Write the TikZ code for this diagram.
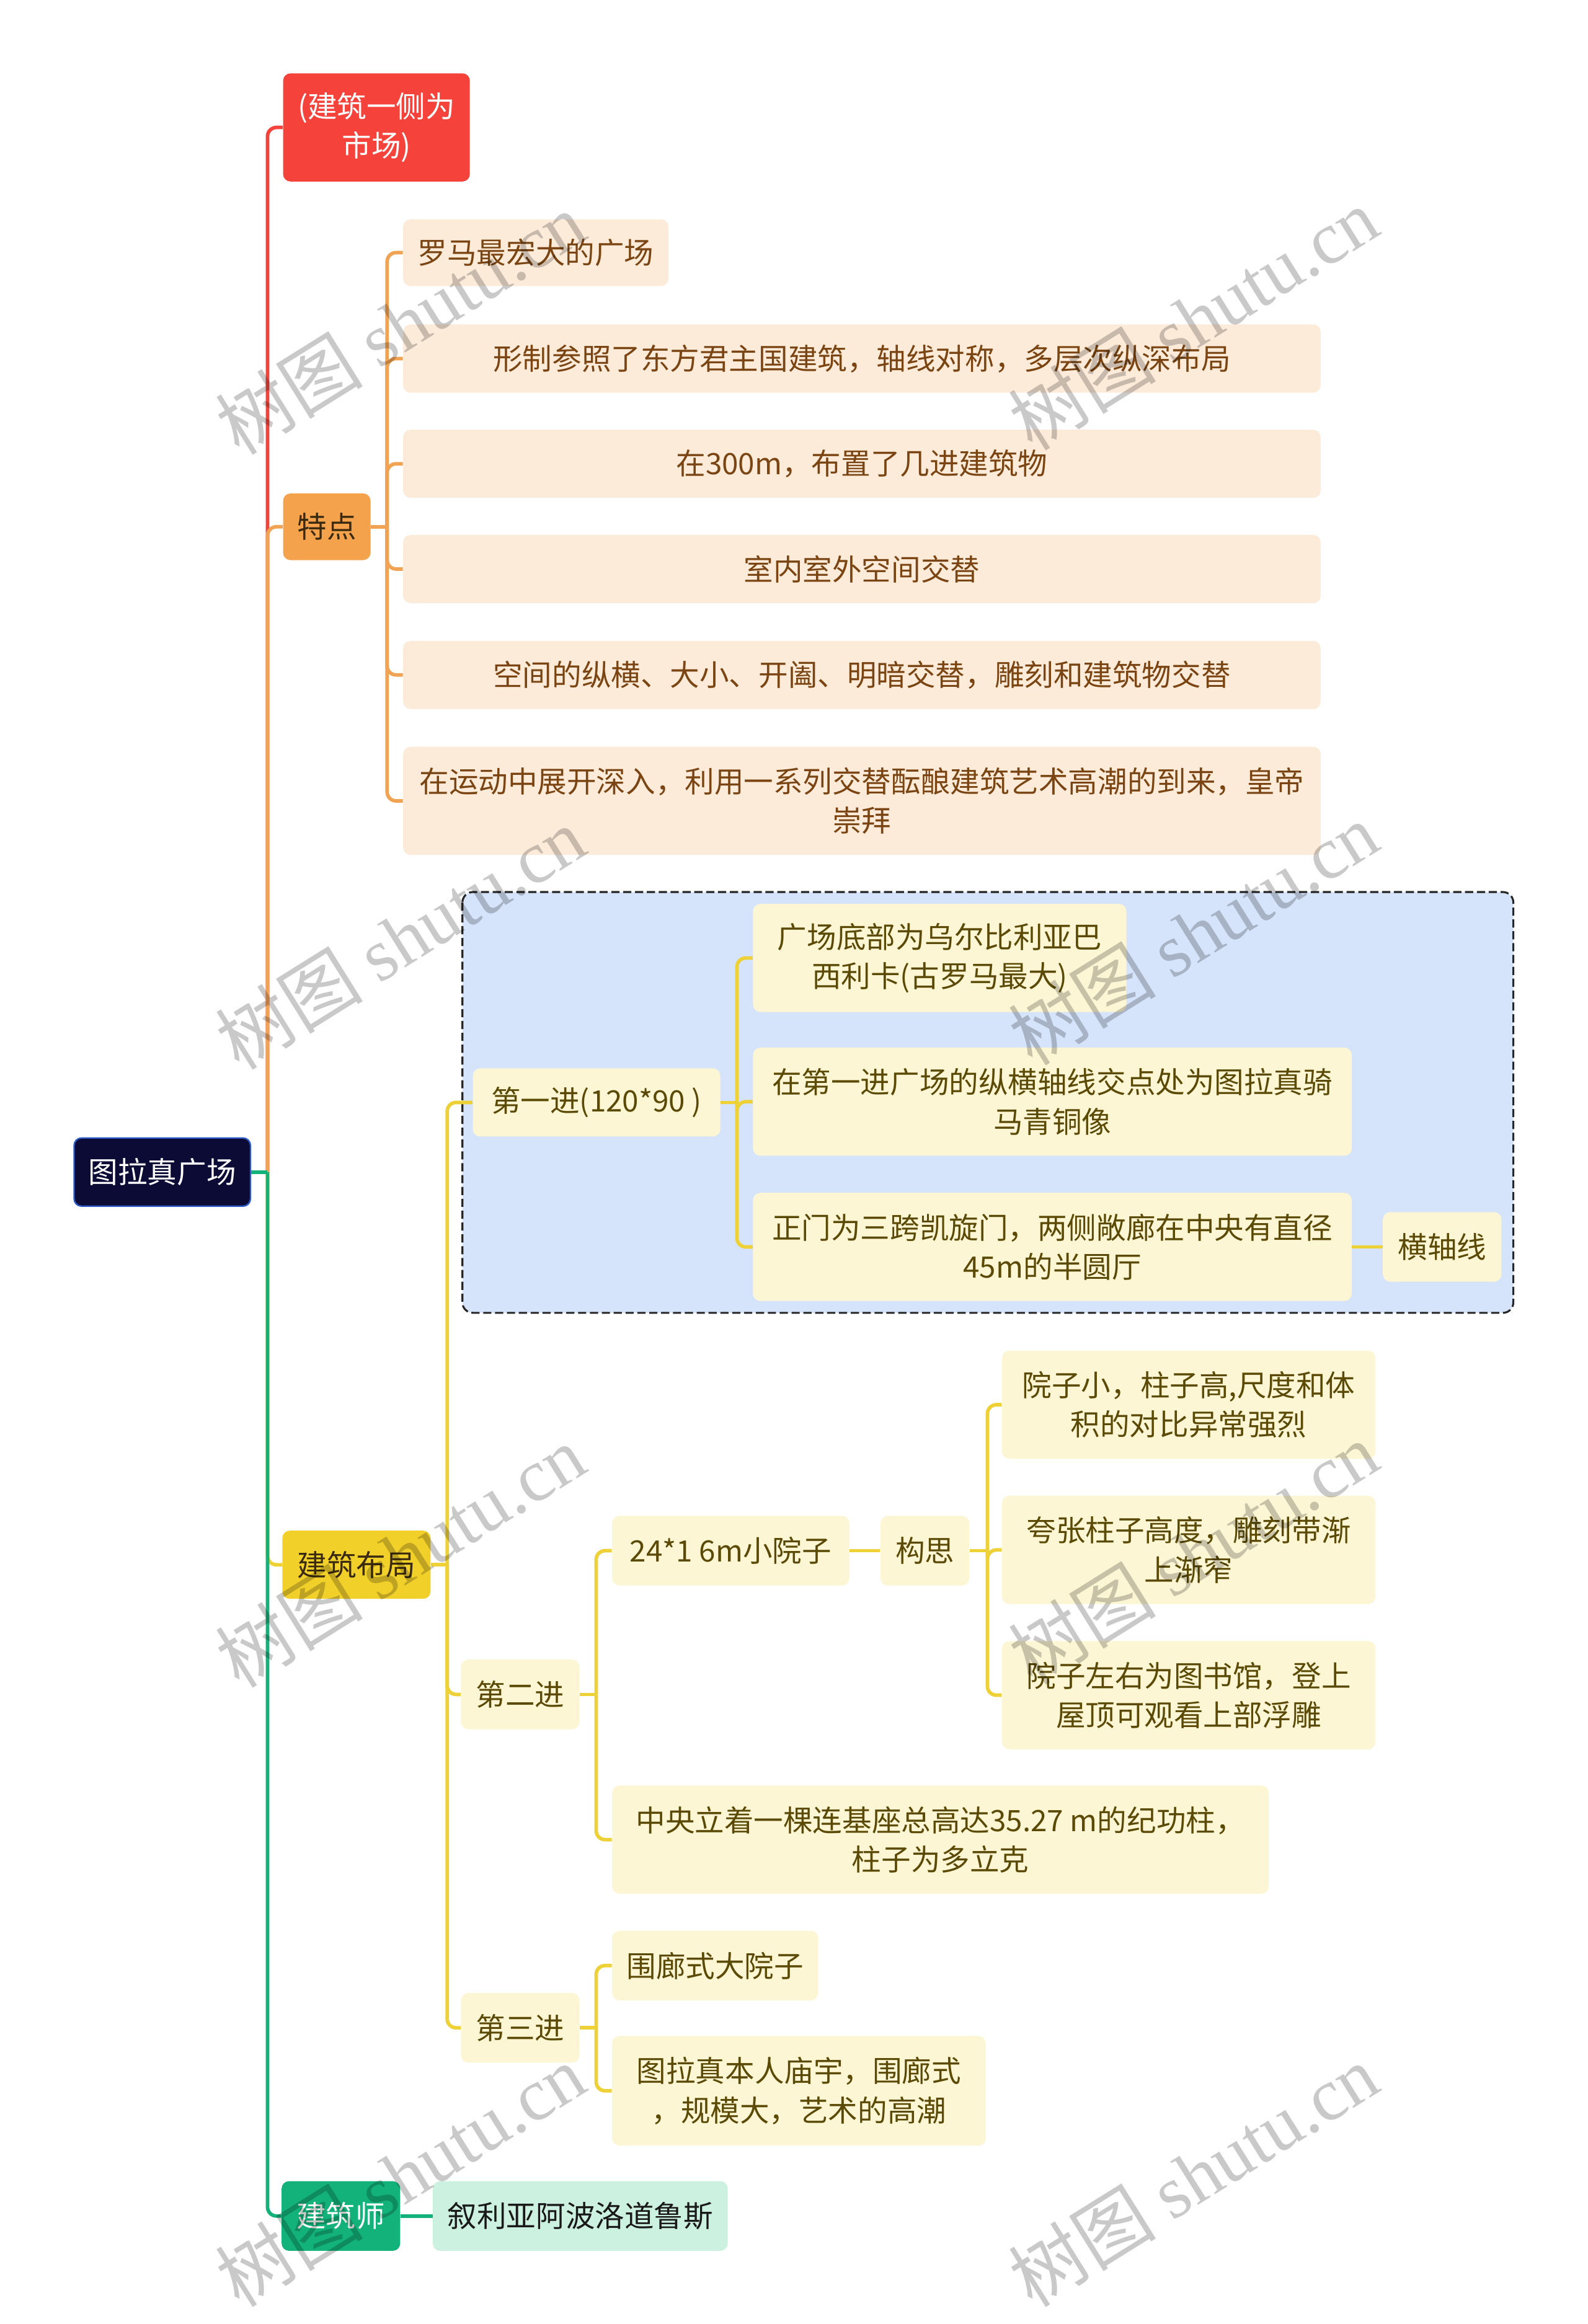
\documentclass[tikz,border=0pt]{standalone}
\usepackage{fontspec}
\setmainfont{Noto Sans CJK SC}
\newfontfamily\wmlatin{Liberation Serif}
\usetikzlibrary{calc}
\definecolor{cRed}{HTML}{F5423B}
\definecolor{cOrg}{HTML}{F5A24C}
\definecolor{cOrgL}{HTML}{F0A352}
\definecolor{cYel}{HTML}{F1D02A}
\definecolor{cYelL}{HTML}{EDD136}
\definecolor{cGrn}{HTML}{12B27A}
\definecolor{cRoot}{HTML}{0B0B35}
\definecolor{cRootB}{HTML}{2F5BC8}
\definecolor{cPeach}{HTML}{FDEBDA}
\definecolor{cPeachT}{HTML}{7A4512}
\definecolor{cCream}{HTML}{FDF6D4}
\definecolor{cCreamT}{HTML}{5B4A05}
\definecolor{cMint}{HTML}{CDF1E1}
\definecolor{cBlue}{HTML}{D5E4FB}
\definecolor{cDark}{HTML}{3A2A10}
\begin{document}
\begin{tikzpicture}[x=1pt,y=-1pt,
  box/.style={rounded corners=5pt, inner sep=0pt, align=center,
    font=\fontsize{19.9}{26.5}\selectfont},
  rootbox/.style={box, fill=cRoot, draw=cRootB, line width=1pt, text=white},
  redbox/.style={box, fill=cRed, text=white},
  orgbox/.style={box, fill=cOrg, text=cDark},
  yelbox/.style={box, fill=cYel, text=cDark},
  grnbox/.style={box, fill=cGrn, text=white},
  peach/.style={box, fill=cPeach, text=cPeachT},
  cream/.style={box, fill=cCream, text=cCreamT},
  mint/.style={box, fill=cMint, text=black!90},
  conn/.style={line width=2.4pt, rounded corners=6pt},
  wm/.style={rotate=32, text=black, text opacity=0.21, inner sep=0pt}
]
\useasboundingbox (0,0) rectangle (1071,1568.4);
\fill[white] (0,0) rectangle (1071,1568.4);

% dashed boundary
\draw[fill=cBlue, draw=black!85, line width=1.3pt, dash pattern=on 5.5pt off 2.5pt, rounded corners=7pt]
  (312,602) rectangle (1021,886);

% nodes
\node[rootbox, minimum width=119pt, minimum height=46pt] (root) at (109.5,791) {图拉真广场};
\node[redbox, minimum width=126pt, minimum height=73pt] (mkt) at (254,86) {(建筑一侧为\\市场)};
\node[orgbox, minimum width=59pt, minimum height=45pt] (td) at (220.5,355.5) {特点};
\node[yelbox, minimum width=100pt, minimum height=46pt] (bj) at (240.5,1056) {建筑布局};
\node[grnbox, minimum width=80pt, minimum height=47pt] (js) at (230,1495.5) {建筑师};

\node[peach, minimum width=179pt, minimum height=45pt] (p1) at (361.5,170.5) {罗马最宏大的广场};
\node[peach, minimum width=619pt, minimum height=46pt] (p2) at (581.5,242) {形制参照了东方君主国建筑，轴线对称，多层次纵深布局};
\node[peach, minimum width=619pt, minimum height=46pt] (p3) at (581.5,313) {在300m，布置了几进建筑物};
\node[peach, minimum width=619pt, minimum height=46pt] (p4) at (581.5,384) {室内室外空间交替};
\node[peach, minimum width=619pt, minimum height=46pt] (p5) at (581.5,455.5) {空间的纵横、大小、开阖、明暗交替，雕刻和建筑物交替};
\node[peach, minimum width=619pt, minimum height=73pt] (p6) at (581.5,540.5) {在运动中展开深入，利用一系列交替酝酿建筑艺术高潮的到来，皇帝\\崇拜};

\node[cream, minimum width=167pt, minimum height=46pt] (d1) at (402.5,744) {第一进(120*90 )};
\node[cream, minimum width=252pt, minimum height=73pt] (a1) at (634,646.5) {广场底部为乌尔比利亚巴\\西利卡(古罗马最大)};
\node[cream, minimum width=404pt, minimum height=73pt] (a2) at (710,743.5) {在第一进广场的纵横轴线交点处为图拉真骑\\马青铜像};
\node[cream, minimum width=404pt, minimum height=73pt] (a3) at (710,841.5) {正门为三跨凯旋门，两侧敞廊在中央有直径\\45m的半圆厅};
\node[cream, minimum width=80pt, minimum height=47pt] (a3c) at (973,841.5) {横轴线};

\node[cream, minimum width=80pt, minimum height=47pt] (d2) at (351,1143.5) {第二进};
\node[cream, minimum width=160pt, minimum height=47pt] (b1) at (493,1046.5) {24*1 6m小院子};
\node[cream, minimum width=60pt, minimum height=47pt] (ks) at (624,1046.5) {构思};
\node[cream, minimum width=252pt, minimum height=73pt] (c1) at (802,948) {院子小，柱子高,尺度和体\\积的对比异常强烈};
\node[cream, minimum width=252pt, minimum height=73pt] (c2) at (802,1046) {夸张柱子高度，雕刻带渐\\上渐窄};
\node[cream, minimum width=252pt, minimum height=73pt] (c3) at (802,1144) {院子左右为图书馆，登上\\屋顶可观看上部浮雕};
\node[cream, minimum width=443pt, minimum height=73pt] (b2) at (634.5,1241.5) {中央立着一棵连基座总高达35.27 m的纪功柱，\\柱子为多立克};

\node[cream, minimum width=80pt, minimum height=47pt] (d3) at (351,1368.5) {第三进};
\node[cream, minimum width=139pt, minimum height=47pt] (e1) at (482.5,1326.5) {围廊式大院子};
\node[cream, minimum width=252pt, minimum height=74pt] (e2) at (539,1411) {图拉真本人庙宇，围廊式\\，规模大，艺术的高潮};

\node[mint, minimum width=199pt, minimum height=47pt] (ar) at (391.5,1495.5) {叙利亚阿波洛道鲁斯};

% junction coordinates
\coordinate (jR) at ($(root.east)+(11,0)$);
\coordinate (jT) at ($(td.east)+(11,0)$);
\coordinate (jB) at ($(bj.east)+(11,0)$);
\coordinate (j1) at ($(d1.east)+(11,0)$);
\coordinate (j2) at ($(d2.east)+(11,0)$);
\coordinate (jK) at ($(ks.east)+(12,0)$);
\coordinate (j3) at ($(d3.east)+(11,0)$);

% root branches
\draw[conn, cRed] (jR) |- (mkt.west);
\draw[conn, cOrgL] (jR) |- (td.west);
\draw[conn, cYelL] (jR) |- (bj.west);
\draw[conn, cGrn] (jR) |- (js.west);
\draw[line width=2.4pt, cGrn] (root.east) -- (jR);

% 特点
\draw[line width=2.4pt, cOrgL] (td.east) -- (jT);
\foreach \n in {p1,p2,p3,p4,p5,p6} \draw[conn, cOrgL] (jT) |- (\n.west);

% 建筑布局
\draw[line width=2.4pt, cYelL] (bj.east) -- (jB);
\foreach \n in {d1,d2,d3} \draw[conn, cYelL] (jB) |- (\n.west);

% 第一进
\draw[line width=2.4pt, cYelL] (d1.east) -- (j1);
\foreach \n in {a1,a2,a3} \draw[conn, cYelL] (j1) |- (\n.west);
\draw[line width=2.4pt, cYelL] (a3.east) -- (a3c.west);

% 第二进
\draw[line width=2.4pt, cYelL] (d2.east) -- (j2);
\foreach \n in {b1,b2} \draw[conn, cYelL] (j2) |- (\n.west);
\draw[line width=2.4pt, cYelL] (b1.east) -- (ks.west);
\draw[line width=2.4pt, cYelL] (ks.east) -- (jK);
\foreach \n in {c1,c2,c3} \draw[conn, cYelL] (jK) |- (\n.west);

% 第三进
\draw[line width=2.4pt, cYelL] (d3.east) -- (j3);
\foreach \n in {e1,e2} \draw[conn, cYelL] (j3) |- (\n.west);

% 建筑师
\draw[line width=2.4pt, cGrn] (js.east) -- (ar.west);

% watermarks
\foreach \cx/\cy [count=\i] in {270/218, 805/215, 270/633, 805/630, 270/1050, 805/1048, 270/1468, 805/1468}
  \node[wm] (wm\i) at (\cx,\cy) {\fontsize{50}{50}\selectfont 树图 {\wmlatin shutu.cn}};
\end{tikzpicture}
\end{document}
